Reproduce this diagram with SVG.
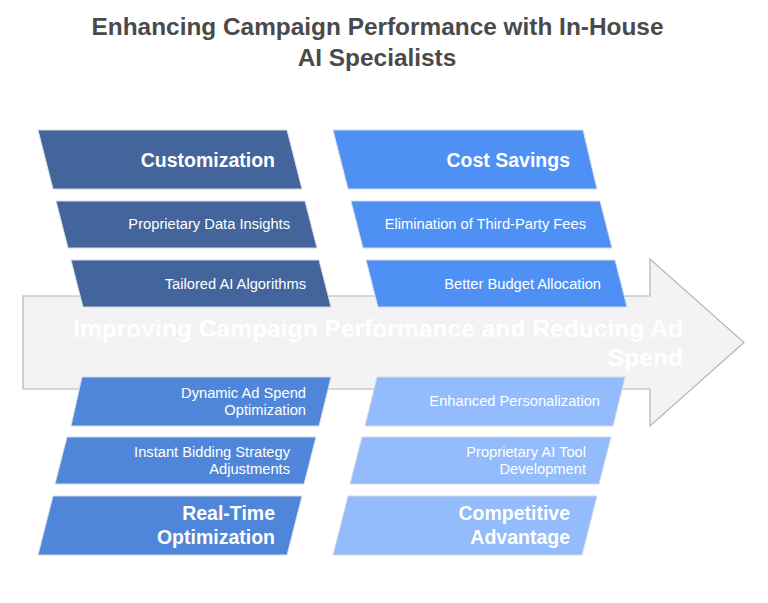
<svg xmlns="http://www.w3.org/2000/svg" width="768" height="603" viewBox="0 0 768 603">
<style>
.title{font-family:"Liberation Sans",Arial,sans-serif;font-weight:bold;font-size:24.4px;fill:#4a4a4a;text-anchor:middle}
.hd{font-family:"Liberation Sans",Arial,sans-serif;font-weight:bold;font-size:19.5px;fill:#ffffff;text-anchor:end}
.it{font-family:"Liberation Sans",Arial,sans-serif;font-size:14.7px;fill:#ffffff;text-anchor:end}
.ar{font-family:"Liberation Sans",Arial,sans-serif;font-weight:bold;font-size:24.6px;fill:#ffffff;text-anchor:end}
.b{stroke:#d4dbe6;stroke-width:1}
.c1{fill:#43659b}
.c2{fill:#4f90f5}
.c3{fill:#5086d9}
.c4{fill:#94bbfb}
</style>
<rect width="768" height="603" fill="#ffffff"/>
<g id="title">
<text class="title" x="377.5" y="34.5">Enhancing Campaign Performance with In-House</text>
<text class="title" x="377" y="65.5">AI Specialists</text>
</g>
<g id="spine">
<path d="M23,296 L650,296 L650,259 L744,342.5 L650,426 L650,389 L23,389 Z" fill="#f3f3f3" stroke="#b4b4b4" stroke-width="1.2"/>
<text class="ar" x="683" y="336.5">Improving Campaign Performance and Reducing Ad</text>
<text class="ar" x="683" y="365.5">Spend</text>
</g>
<g id="connectors"></g>
<g id="customization">
<polygon class="b c1" points="38,130 287,130 302,189 53,189"/>
<text class="hd" x="275" y="167">Customization</text>
</g>
<g id="proprietary-data-insights">
<polygon class="b c1" points="56,201 305,201 317,248 68,248"/>
<text class="it" x="290" y="229">Proprietary Data Insights</text>
</g>
<g id="tailored-ai-algorithms">
<polygon class="b c1" points="71,260 319,260 331,307 83,307"/>
<text class="it" x="306" y="288.5">Tailored AI Algorithms</text>
</g>
<g id="cost-savings">
<polygon class="b c2" points="333,130 583,130 597,189 348,189"/>
<text class="hd" x="570" y="167">Cost Savings</text>
</g>
<g id="elimination-fees">
<polygon class="b c2" points="351,201 600,201 612,248 363,248"/>
<text class="it" x="586" y="229">Elimination of Third-Party Fees</text>
</g>
<g id="better-budget">
<polygon class="b c2" points="366,260 615,260 627,307 378,307"/>
<text class="it" x="601" y="288.5">Better Budget Allocation</text>
</g>
<g id="dynamic-ad-spend">
<polygon class="b c3" points="82,377 331,377 319,426 71,426"/>
<text class="it" x="306" y="397.5">Dynamic Ad Spend</text>
<text class="it" x="306" y="415">Optimization</text>
</g>
<g id="instant-bidding">
<polygon class="b c3" points="67,437 316,437 304,484 55,484"/>
<text class="it" x="290" y="456.7">Instant Bidding Strategy</text>
<text class="it" x="290" y="474">Adjustments</text>
</g>
<g id="real-time">
<polygon class="b c3" points="53,496 302,496 287,555 38,555"/>
<text class="hd" x="275" y="520.3">Real-Time</text>
<text class="hd" x="275" y="543.7">Optimization</text>
</g>
<g id="enhanced-personalization">
<polygon class="b c4" points="377,377 625,377 613,426 365,426"/>
<text class="it" x="600" y="406">Enhanced Personalization</text>
</g>
<g id="proprietary-ai-tool">
<polygon class="b c4" points="362,437 611,437 599,484 350,484"/>
<text class="it" x="586" y="456.7">Proprietary AI Tool</text>
<text class="it" x="586" y="474">Development</text>
</g>
<g id="competitive-advantage">
<polygon class="b c4" points="348,496 597,496 582,555 333,555"/>
<text class="hd" x="570" y="520.3">Competitive</text>
<text class="hd" x="570" y="543.7">Advantage</text>
</g>
</svg>
